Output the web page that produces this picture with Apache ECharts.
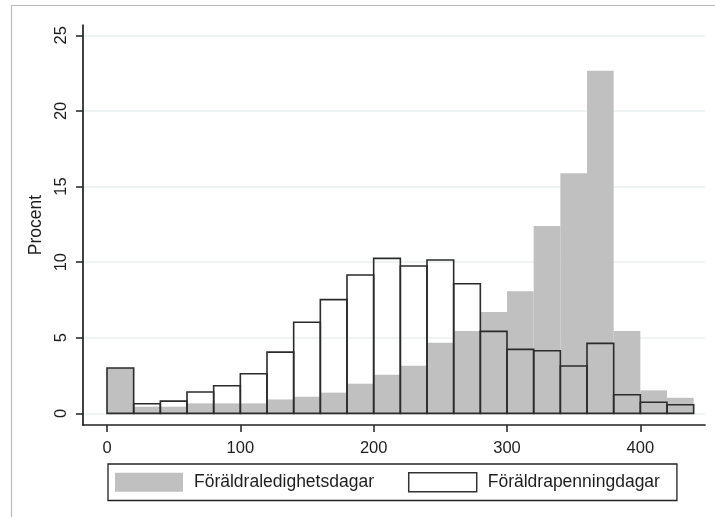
<!DOCTYPE html>
<html>
<head>
<meta charset="utf-8">
<script src="https://cdn.jsdelivr.net/npm/echarts@6/dist/echarts.min.js"></script>
<style>
html,body{margin:0;padding:0;background:#fff;}
#chart{width:715px;height:517px;}
</style>
</head>
<body>
<div id="chart"></div>
<script>
// Bin starts (days), bin width 20
const binStarts = [0,20,40,60,80,100,120,140,160,180,200,220,240,260,280,300,320,340,360,380,400,420];
const binWidth = 20;
// Percent per bin
const ledighetsdagar = [3.0,0.44,0.44,0.66,0.66,0.66,0.92,1.1,1.37,1.96,2.55,3.15,4.67,5.44,6.70,8.07,12.39,15.87,22.66,5.44,1.52,1.03];
const penningdagar   = [3.0,0.64,0.81,1.41,1.83,2.62,4.05,6.02,7.52,9.15,10.25,9.74,10.14,8.57,5.42,4.23,4.14,3.13,4.63,1.23,0.73,0.57];
const xTicks = [0,100,200,300,400];
const yTicks = [0,5,10,15,20,25];
const seriesNames = ['Föräldraledighetsdagar','Föräldrapenningdagar'];

const FONT = '"Liberation Sans", Arial, sans-serif';
const TXT = '#1e1e1e';

function binData(vals){
  return binStarts.map((s,i)=>[s, s+binWidth, vals[i]]);
}
function makeRender(fill, stroke, lw){
  return function(params, api){
    const x0 = api.value(0), x1 = api.value(1), v = api.value(2);
    const p0 = api.coord([x0, 0]);
    const p1 = api.coord([x1, v]);
    return {
      type:'rect',
      shape:{x:p0[0], y:p1[1], width:p1[0]-p0[0], height:p0[1]-p1[1]},
      style:{fill:fill, stroke:stroke, lineWidth:lw}
    };
  };
}

const chart = echarts.init(document.getElementById('chart'), null, {renderer:'canvas'});
chart.setOption({
  animation:false,
  backgroundColor:'#fff',
  textStyle:{fontFamily:FONT},
  graphic:[{
    type:'rect', silent:true, z:-10,
    shape:{x:11.5, y:5.5, width:760, height:560},
    style:{fill:'none', stroke:'#b8bcbc', lineWidth:1.2}
  }],
  grid:{left:83, right:10, top:25, bottom:92, containLabel:false},
  xAxis:{
    type:'value', min:-18, max:448.5,
    axisLine:{show:true, onZero:false, lineStyle:{color:'#222', width:1.7}},
    axisTick:{show:true, length:7, lineStyle:{color:'#222', width:1.5}, customValues:xTicks},
    axisLabel:{show:true, margin:15, fontSize:16.5, color:TXT, fontFamily:FONT, customValues:xTicks},
    splitLine:{show:false}
  },
  yAxis:{
    type:'value', min:-0.77, max:25.68,
    name:'Procent', nameLocation:'middle', nameGap:30, nameRotate:90,
    nameTextStyle:{fontSize:17.5, color:TXT, fontFamily:FONT},
    axisLine:{show:true, onZero:false, lineStyle:{color:'#222', width:1.7}},
    axisTick:{show:true, length:7, lineStyle:{color:'#222', width:1.5}, customValues:yTicks},
    axisLabel:{show:true, rotate:90, margin:13, fontSize:16.5, color:TXT, fontFamily:FONT, customValues:yTicks},
    splitLine:{show:true, lineStyle:{color:'#e8eff1', width:1.5}}
  },
  legend:{
    show:true, left:108, top:464, orient:'horizontal',
    icon:'rect', itemWidth:68, itemHeight:19, itemGap:34,
    padding:[8,17,8,7],
    borderColor:'#222', borderWidth:1.3,
    textStyle:{fontSize:17.5, color:TXT, fontFamily:FONT, padding:[0,0,0,6]},
    data:[
      {name:seriesNames[0], itemStyle:{color:'#c0c0c0', borderWidth:0}},
      {name:seriesNames[1], itemStyle:{color:'#fff', borderColor:'#333', borderWidth:1.5}}
    ]
  },
  series:[
    {
      name:seriesNames[0], type:'custom', z:2, color:'#c0c0c0',
      renderItem: makeRender('#c0c0c0', null, 0),
      encode:{x:[0,1], y:2},
      data: binData(ledighetsdagar)
    },
    {
      name:seriesNames[1], type:'custom', z:3, color:'#fff',
      renderItem: makeRender('none', '#2b2b2b', 1.6),
      encode:{x:[0,1], y:2},
      data: binData(penningdagar)
    }
  ]
});
</script>
</body>
</html>
